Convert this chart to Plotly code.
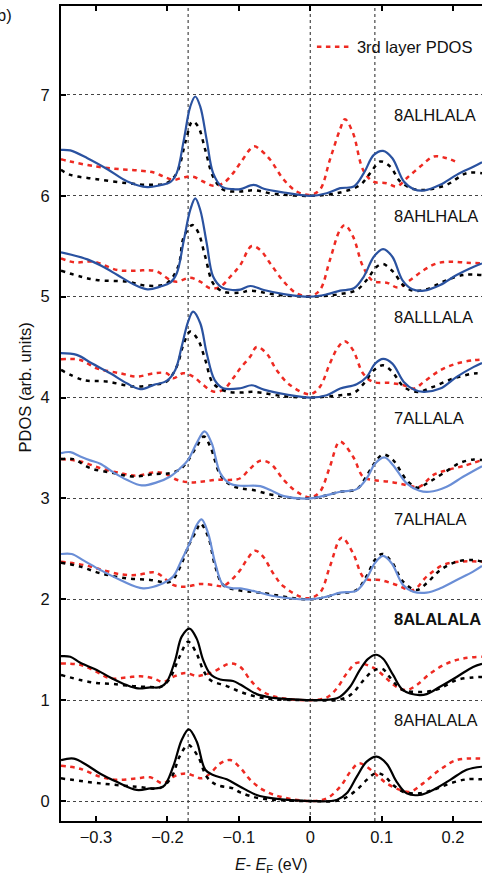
import plotly.graph_objects as go

# ---------------- data ----------------
panel_names = ["8ALHLALA", "8AHLHALA", "8ALLLALA", "7ALLALA", "7ALHALA", "8ALALALA", "8AHALALA"]
panel_offsets = [6, 5, 4, 3, 2, 1, 0]
panel_bold = [False, False, False, False, False, True, False]
solid_colors = ["#2a52a0", "#2a52a0", "#2a52a0", "#6a8ed6", "#6a8ed6", "#000000", "#000000"]
ref_lines_x = [-0.171, 0.0, 0.0905]
x_ticks = [-0.3, -0.2, -0.1, 0.0, 0.1, 0.2]
y_ticks = [0, 1, 2, 3, 4, 5, 6, 7]

# 8ALHLALA
alhlala_solid_x = [-0.349, -0.336, -0.312, -0.284, -0.256, -0.228, -0.210, -0.196, -0.187, -0.177, -0.168, -0.161, -0.154, -0.145, -0.136, -0.124, -0.108, -0.098, -0.079, -0.065, -0.037, 0.0, 0.023, 0.042, 0.061, 0.075, 0.089, 0.102, 0.115, 0.131, 0.145, 0.159, 0.182, 0.205, 0.229, 0.2405]
alhlala_solid_y = [0.456, 0.45, 0.373, 0.264, 0.142, 0.086, 0.106, 0.135, 0.225, 0.555, 0.885, 0.985, 0.885, 0.555, 0.225, 0.092, 0.066, 0.066, 0.109, 0.07, 0.033, 0.0, 0.026, 0.076, 0.092, 0.225, 0.406, 0.446, 0.373, 0.142, 0.066, 0.053, 0.109, 0.208, 0.29, 0.333]
alhlala_dash_x = [-0.349, -0.336, -0.299, -0.256, -0.224, -0.201, -0.187, -0.174, -0.165, -0.157, -0.147, -0.136, -0.122, -0.098, -0.079, -0.051, 0.0, 0.042, 0.070, 0.084, 0.098, 0.112, 0.126, 0.145, 0.163, 0.191, 0.219, 0.2405]
alhlala_dash_y = [0.258, 0.208, 0.165, 0.125, 0.109, 0.125, 0.225, 0.555, 0.737, 0.687, 0.456, 0.19, 0.06, 0.043, 0.055, 0.02, 0.0, 0.033, 0.109, 0.225, 0.34, 0.29, 0.142, 0.066, 0.06, 0.109, 0.225, 0.225]
alhlala_red_x = [-0.349, -0.336, -0.299, -0.266, -0.238, -0.219, -0.205, -0.192, -0.178, -0.164, -0.150, -0.136, -0.122, -0.108, -0.098, -0.079, -0.070, -0.056, -0.037, -0.019, 0.0, 0.0135, 0.0275, 0.0415, 0.0485, 0.060, 0.074, 0.088, 0.107, 0.121, 0.135, 0.154, 0.173, 0.191, 0.208]
alhlala_red_y = [0.363, 0.34, 0.29, 0.264, 0.25, 0.231, 0.19, 0.158, 0.182, 0.19, 0.142, 0.099, 0.125, 0.225, 0.324, 0.49, 0.456, 0.357, 0.159, 0.043, 0.01, 0.06, 0.357, 0.654, 0.76, 0.62, 0.258, 0.142, 0.125, 0.092, 0.175, 0.29, 0.39, 0.373, 0.324]

# 8AHLHALA
ahlhala_solid_x = [-0.349, -0.312, -0.290, -0.270, -0.250, -0.228, -0.210, -0.196, -0.187, -0.177, -0.168, -0.161, -0.154, -0.145, -0.136, -0.124, -0.108, -0.098, -0.084, -0.065, -0.037, 0.0, 0.023, 0.042, 0.061, 0.075, 0.089, 0.102, 0.115, 0.129, 0.143, 0.159, 0.182, 0.205, 0.229, 0.2405]
ahlhala_solid_y = [0.44, 0.37, 0.297, 0.215, 0.132, 0.073, 0.1, 0.139, 0.23, 0.56, 0.86, 0.975, 0.86, 0.53, 0.2, 0.092, 0.066, 0.07, 0.106, 0.066, 0.026, 0.0, 0.023, 0.06, 0.083, 0.2, 0.396, 0.472, 0.396, 0.165, 0.073, 0.06, 0.116, 0.215, 0.297, 0.33]
ahlhala_dash_x = [-0.349, -0.322, -0.299, -0.256, -0.228, -0.201, -0.185, -0.177, -0.165, -0.157, -0.147, -0.136, -0.122, -0.098, -0.084, -0.051, 0.0, 0.042, 0.065, 0.079, 0.093, 0.102, 0.116, 0.130, 0.144, 0.163, 0.186, 0.214, 0.2405]
ahlhala_dash_y = [0.258, 0.2, 0.165, 0.149, 0.109, 0.132, 0.297, 0.595, 0.71, 0.64, 0.396, 0.132, 0.05, 0.04, 0.06, 0.023, 0.0, 0.026, 0.066, 0.165, 0.297, 0.324, 0.248, 0.116, 0.06, 0.073, 0.149, 0.215, 0.215]
ahlhala_red_x = [-0.349, -0.330, -0.303, -0.270, -0.242, -0.228, -0.214, -0.196, -0.187, -0.168, -0.154, -0.140, -0.126, -0.112, -0.098, -0.082, -0.070, -0.056, -0.037, -0.019, 0.0, 0.0135, 0.0275, 0.0415, 0.0485, 0.060, 0.074, 0.088, 0.107, 0.123, 0.140, 0.159, 0.177, 0.196, 0.219, 0.2405]
ahlhala_red_y = [0.38, 0.34, 0.347, 0.264, 0.258, 0.264, 0.248, 0.165, 0.149, 0.188, 0.149, 0.083, 0.099, 0.198, 0.314, 0.502, 0.463, 0.33, 0.149, 0.033, 0.007, 0.066, 0.363, 0.66, 0.71, 0.595, 0.297, 0.155, 0.139, 0.092, 0.165, 0.264, 0.33, 0.347, 0.337, 0.33]

# 8ALLLALA
allllala_solid_x = [-0.349, -0.327, -0.306, -0.280, -0.257, -0.238, -0.219, -0.201, -0.189, -0.180, -0.171, -0.164, -0.154, -0.145, -0.134, -0.122, -0.098, -0.082, -0.065, -0.033, 0.0, 0.023, 0.042, 0.065, 0.079, 0.091, 0.102, 0.115, 0.131, 0.145, 0.159, 0.182, 0.205, 0.229, 0.2405]
allllala_solid_y = [0.44, 0.423, 0.34, 0.241, 0.142, 0.083, 0.126, 0.165, 0.274, 0.505, 0.753, 0.852, 0.737, 0.44, 0.175, 0.092, 0.092, 0.122, 0.079, 0.03, 0.0, 0.023, 0.089, 0.132, 0.205, 0.337, 0.383, 0.337, 0.155, 0.079, 0.056, 0.089, 0.205, 0.304, 0.343]
allllala_dash_x = [-0.349, -0.318, -0.285, -0.247, -0.219, -0.201, -0.187, -0.177, -0.168, -0.157, -0.147, -0.136, -0.117, -0.098, -0.079, -0.037, 0.0, 0.042, 0.061, 0.075, 0.089, 0.102, 0.115, 0.131, 0.150, 0.172, 0.200, 0.229, 0.2405]
allllala_dash_y = [0.274, 0.175, 0.159, 0.109, 0.126, 0.159, 0.307, 0.538, 0.654, 0.571, 0.373, 0.142, 0.06, 0.05, 0.056, 0.013, 0.0, 0.023, 0.046, 0.139, 0.27, 0.32, 0.254, 0.106, 0.056, 0.106, 0.188, 0.238, 0.238]
allllala_red_x = [-0.349, -0.322, -0.299, -0.266, -0.243, -0.219, -0.201, -0.192, -0.178, -0.164, -0.150, -0.136, -0.122, -0.108, -0.098, -0.084, -0.075, -0.061, -0.047, -0.028, 0.0, 0.0135, 0.0275, 0.0392, 0.0485, 0.060, 0.074, 0.088, 0.112, 0.131, 0.145, 0.159, 0.182, 0.205, 0.229, 0.2405]
allllala_red_y = [0.38, 0.373, 0.29, 0.241, 0.208, 0.241, 0.241, 0.191, 0.241, 0.208, 0.126, 0.06, 0.076, 0.191, 0.29, 0.406, 0.502, 0.436, 0.271, 0.122, 0.033, 0.106, 0.337, 0.502, 0.558, 0.469, 0.238, 0.155, 0.145, 0.122, 0.089, 0.155, 0.271, 0.337, 0.37, 0.376]

# 7ALLALA
allala7_solid_x = [-0.349, -0.336, -0.322, -0.308, -0.294, -0.2755, -0.257, -0.236, -0.215, -0.196, -0.182, -0.171, -0.159, -0.148, -0.138, -0.126, -0.112, -0.098, -0.070, -0.056, -0.037, 0.0, 0.023, 0.042, 0.065, 0.079, 0.091, 0.104, 0.116, 0.135, 0.153, 0.167, 0.191, 0.214, 0.2405]
allala7_solid_y = [0.449, 0.459, 0.416, 0.377, 0.344, 0.258, 0.185, 0.129, 0.159, 0.218, 0.3, 0.383, 0.548, 0.664, 0.548, 0.251, 0.145, 0.126, 0.122, 0.083, 0.023, 0.0, 0.033, 0.066, 0.092, 0.198, 0.347, 0.406, 0.33, 0.149, 0.076, 0.066, 0.116, 0.215, 0.32]
allala7_dash_x = [-0.349, -0.332, -0.308, -0.2755, -0.247, -0.219, -0.196, -0.182, -0.171, -0.159, -0.149, -0.140, -0.126, -0.112, -0.098, -0.080, -0.051, 0.0, 0.042, 0.065, 0.081, 0.091, 0.102, 0.116, 0.135, 0.150, 0.167, 0.186, 0.210, 0.229, 0.2405]
allala7_dash_y = [0.39, 0.39, 0.3, 0.251, 0.218, 0.241, 0.251, 0.29, 0.377, 0.515, 0.614, 0.515, 0.235, 0.135, 0.1, 0.083, 0.033, 0.0, 0.066, 0.092, 0.248, 0.36, 0.436, 0.38, 0.182, 0.106, 0.165, 0.248, 0.353, 0.386, 0.38]
allala7_red_x = [-0.349, -0.322, -0.294, -0.266, -0.243, -0.219, -0.205, -0.187, -0.168, -0.150, -0.131, -0.108, -0.098, -0.084, -0.070, -0.056, -0.037, -0.019, 0.0, 0.0135, 0.0275, 0.0415, 0.060, 0.074, 0.088, 0.112, 0.135, 0.153, 0.172, 0.191, 0.214, 0.2405]
allala7_red_y = [0.39, 0.367, 0.3, 0.251, 0.225, 0.258, 0.251, 0.185, 0.159, 0.168, 0.185, 0.185, 0.2, 0.297, 0.373, 0.347, 0.182, 0.066, 0.01, 0.066, 0.314, 0.562, 0.413, 0.215, 0.182, 0.165, 0.132, 0.116, 0.231, 0.28, 0.32, 0.38]

# 7ALHALA
alhala7_solid_x = [-0.349, -0.334, -0.317, -0.294, -0.266, -0.234, -0.206, -0.192, -0.180, -0.168, -0.159, -0.152, -0.143, -0.133, -0.122, -0.108, -0.098, -0.080, -0.052, 0.0, 0.023, 0.042, 0.065, 0.079, 0.091, 0.102, 0.114, 0.130, 0.144, 0.163, 0.182, 0.205, 0.228, 0.2405]
alhala7_solid_y = [0.449, 0.449, 0.383, 0.291, 0.192, 0.109, 0.159, 0.225, 0.39, 0.572, 0.737, 0.793, 0.654, 0.357, 0.142, 0.109, 0.109, 0.083, 0.033, 0.0, 0.026, 0.066, 0.086, 0.208, 0.363, 0.43, 0.357, 0.142, 0.076, 0.066, 0.109, 0.192, 0.274, 0.33]
alhala7_dash_x = [-0.349, -0.322, -0.294, -0.257, -0.224, -0.196, -0.182, -0.171, -0.159, -0.154, -0.143, -0.133, -0.122, -0.103, -0.070, 0.0, 0.042, 0.065, 0.079, 0.091, 0.101, 0.114, 0.130, 0.149, 0.163, 0.182, 0.205, 0.228, 0.2405]
alhala7_dash_y = [0.363, 0.324, 0.258, 0.208, 0.192, 0.175, 0.324, 0.522, 0.687, 0.753, 0.621, 0.324, 0.142, 0.093, 0.066, 0.0, 0.059, 0.092, 0.231, 0.396, 0.45, 0.373, 0.175, 0.092, 0.159, 0.29, 0.373, 0.39, 0.373]
alhala7_red_x = [-0.349, -0.317, -0.294, -0.266, -0.243, -0.219, -0.210, -0.192, -0.175, -0.154, -0.136, -0.122, -0.108, -0.098, -0.089, -0.077, -0.066, -0.052, -0.037, -0.005, 0.0135, 0.0275, 0.044, 0.060, 0.076, 0.098, 0.121, 0.144, 0.163, 0.186, 0.210, 0.2405]
alhala7_red_y = [0.373, 0.34, 0.297, 0.248, 0.241, 0.268, 0.241, 0.142, 0.125, 0.152, 0.142, 0.132, 0.208, 0.29, 0.39, 0.482, 0.423, 0.258, 0.126, 0.01, 0.066, 0.324, 0.611, 0.456, 0.208, 0.192, 0.142, 0.092, 0.225, 0.34, 0.373, 0.373]

# 8ALALALA
alalala_solid_x = [-0.349, -0.336, -0.322, -0.299, -0.280, -0.257, -0.241, -0.224, -0.210, -0.201, -0.189, -0.180, -0.169, -0.159, -0.150, -0.140, -0.126, -0.108, -0.098, -0.075, -0.052, -0.029, 0.0, 0.032, 0.0415, 0.0555, 0.0695, 0.081, 0.092, 0.102, 0.116, 0.130, 0.153, 0.163, 0.181, 0.205, 0.228, 0.2405]
alalala_solid_y = [0.436, 0.43, 0.37, 0.30, 0.225, 0.149, 0.116, 0.126, 0.13, 0.18, 0.40, 0.63, 0.71, 0.61, 0.40, 0.26, 0.205, 0.19, 0.155, 0.06, 0.023, 0.01, 0.0, 0.01, 0.033, 0.13, 0.30, 0.41, 0.45, 0.41, 0.25, 0.10, 0.05, 0.06, 0.13, 0.23, 0.33, 0.36]
alalala_dash_x = [-0.349, -0.322, -0.299, -0.276, -0.248, -0.224, -0.210, -0.198, -0.183, -0.171, -0.159, -0.150, -0.140, -0.117, -0.098, -0.075, -0.052, 0.0, 0.042, 0.058, 0.0725, 0.088, 0.101, 0.111, 0.126, 0.135, 0.163, 0.181, 0.205, 0.228, 0.2405]
alalala_dash_y = [0.25, 0.20, 0.17, 0.16, 0.139, 0.13, 0.13, 0.2, 0.43, 0.578, 0.46, 0.30, 0.20, 0.14, 0.083, 0.033, 0.01, 0.0, 0.007, 0.06, 0.18, 0.29, 0.31, 0.23, 0.115, 0.09, 0.083, 0.115, 0.2, 0.225, 0.23]
alalala_red_x = [-0.349, -0.322, -0.299, -0.280, -0.257, -0.238, -0.219, -0.206, -0.192, -0.175, -0.159, -0.150, -0.136, -0.112, -0.098, -0.084, -0.070, -0.052, -0.029, 0.0, 0.023, 0.037, 0.051, 0.065, 0.079, 0.093, 0.107, 0.121, 0.135, 0.149, 0.168, 0.191, 0.214, 0.2405]
alalala_red_y = [0.363, 0.35, 0.28, 0.215, 0.225, 0.238, 0.215, 0.18, 0.23, 0.27, 0.24, 0.25, 0.28, 0.363, 0.33, 0.2, 0.1, 0.04, 0.01, 0.0, 0.026, 0.115, 0.264, 0.37, 0.35, 0.30, 0.215, 0.13, 0.1, 0.15, 0.264, 0.363, 0.413, 0.43]

# 8AHALALA
ahalala_solid_x = [-0.349, -0.331, -0.313, -0.294, -0.271, -0.243, -0.224, -0.206, -0.192, -0.180, -0.170, -0.159, -0.147, -0.136, -0.117, -0.098, -0.075, -0.052, 0.0, 0.037, 0.051, 0.065, 0.079, 0.093, 0.107, 0.121, 0.135, 0.153, 0.172, 0.196, 0.219, 0.2405]
ahalala_solid_y = [0.406, 0.42, 0.357, 0.27, 0.19, 0.11, 0.125, 0.142, 0.34, 0.605, 0.71, 0.59, 0.31, 0.258, 0.215, 0.142, 0.06, 0.026, 0.0, 0.01, 0.076, 0.24, 0.39, 0.44, 0.37, 0.19, 0.076, 0.06, 0.11, 0.21, 0.31, 0.34]
ahalala_dash_x = [-0.349, -0.294, -0.243, -0.210, -0.194, -0.183, -0.171, -0.157, -0.145, -0.131, -0.108, -0.098, -0.070, 0.0, 0.042, 0.065, 0.079, 0.091, 0.102, 0.116, 0.130, 0.153, 0.172, 0.196, 0.219, 0.2405]
ahalala_dash_y = [0.225, 0.175, 0.142, 0.13, 0.24, 0.44, 0.555, 0.44, 0.24, 0.16, 0.125, 0.085, 0.026, 0.0, 0.01, 0.11, 0.21, 0.274, 0.258, 0.16, 0.092, 0.076, 0.11, 0.175, 0.215, 0.215]
ahalala_red_x = [-0.349, -0.322, -0.294, -0.271, -0.243, -0.224, -0.206, -0.192, -0.175, -0.163, -0.152, -0.140, -0.126, -0.112, -0.098, -0.084, -0.066, -0.042, 0.0, 0.023, 0.042, 0.056, 0.068, 0.079, 0.093, 0.107, 0.126, 0.140, 0.158, 0.181, 0.205, 0.2405]
ahalala_red_y = [0.35, 0.32, 0.24, 0.21, 0.225, 0.235, 0.175, 0.24, 0.274, 0.25, 0.225, 0.274, 0.373, 0.406, 0.33, 0.21, 0.11, 0.043, 0.0, 0.026, 0.142, 0.29, 0.373, 0.34, 0.258, 0.175, 0.11, 0.092, 0.175, 0.307, 0.406, 0.42]

solid_x = [alhlala_solid_x, ahlhala_solid_x, allllala_solid_x, allala7_solid_x, alhala7_solid_x, alalala_solid_x, ahalala_solid_x]
solid_y = [alhlala_solid_y, ahlhala_solid_y, allllala_solid_y, allala7_solid_y, alhala7_solid_y, alalala_solid_y, ahalala_solid_y]
dash_x = [alhlala_dash_x, ahlhala_dash_x, allllala_dash_x, allala7_dash_x, alhala7_dash_x, alalala_dash_x, ahalala_dash_x]
dash_y = [alhlala_dash_y, ahlhala_dash_y, allllala_dash_y, allala7_dash_y, alhala7_dash_y, alalala_dash_y, ahalala_dash_y]
red_x = [alhlala_red_x, ahlhala_red_x, allllala_red_x, allala7_red_x, alhala7_red_x, alalala_red_x, ahalala_red_x]
red_y = [alhlala_red_y, ahlhala_red_y, allllala_red_y, allala7_red_y, alhala7_red_y, alalala_red_y, ahalala_red_y]

# ---------------- figure ----------------
FONT = "Liberation Sans, Arial, Helvetica, sans-serif"
RED = "#ee2a22"

fig = go.Figure()

for i, off in enumerate(panel_offsets):
    fig.add_trace(go.Scatter(
        x=red_x[i], y=[v + off for v in red_y[i]], mode="lines",
        line=dict(color=RED, width=2.5, dash="4.5px,4.5px", shape="spline", smoothing=1),
        name="3rd layer PDOS", showlegend=(i == 0), hoverinfo="skip"))
    fig.add_trace(go.Scatter(
        x=dash_x[i], y=[v + off for v in dash_y[i]], mode="lines",
        line=dict(color="#000000", width=2.5, dash="4px,5px", shape="spline", smoothing=1),
        showlegend=False, hoverinfo="skip"))
    fig.add_trace(go.Scatter(
        x=solid_x[i], y=[v + off for v in solid_y[i]], mode="lines",
        line=dict(color=solid_colors[i], width=2.2, shape="spline", smoothing=1),
        showlegend=False, hoverinfo="skip"))

for xv in ref_lines_x:
    fig.add_shape(type="line", x0=xv, x1=xv, xref="x", y0=0, y1=1, yref="paper",
                  line=dict(color="#222222", width=1, dash="dot"), layer="below")

for i, name in enumerate(panel_names):
    txt = "<b>%s</b>" % name if panel_bold[i] else name
    fig.add_annotation(x=0.1144, y=panel_offsets[i] + 0.80, xref="x", yref="y",
                       text=txt, showarrow=False, xanchor="left", yanchor="middle",
                       font=dict(family=FONT, size=16.5, color="#111111"))

fig.add_annotation(x=-0.0855, y=0.532, xref="paper", yref="paper", text="PDOS (arb. units)",
                   textangle=-90, showarrow=False, xanchor="center", yanchor="middle",
                   font=dict(family=FONT, size=16.5, color="#111111"))
fig.add_annotation(x=0.501, y=-0.054, xref="paper", yref="paper",
                   text="<i>E</i>- <i>E</i><sub>F</sub> (eV)", showarrow=False,
                   xanchor="center", yanchor="middle",
                   font=dict(family=FONT, size=16, color="#111111"))
fig.add_annotation(x=-0.112, y=0.989, xref="paper", yref="paper", text="b)",
                   showarrow=False, xanchor="right", yanchor="middle",
                   font=dict(family=FONT, size=16.5, color="#111111"))

fig.update_layout(
    width=482, height=875,
    margin=dict(l=61, r=0, t=6, b=54),
    paper_bgcolor="white", plot_bgcolor="white",
    font=dict(family=FONT, size=16.5, color="#111111"),
    legend=dict(x=0.596, y=0.971, xanchor="left", yanchor="top", itemwidth=35,
                bgcolor="rgba(0,0,0,0)", borderwidth=0,
                font=dict(family=FONT, size=16.5, color="#111111")),
    xaxis=dict(range=[-0.349, 0.2405], tickvals=x_ticks, ticks="inside", ticklen=5,
               tickwidth=1.5, tickcolor="#000", showline=True, linecolor="#000",
               linewidth=2, mirror="ticks", showgrid=False, zeroline=False,
               tickfont=dict(family=FONT, size=16.5, color="#111111")),
    yaxis=dict(range=[-0.198, 7.882], tickvals=y_ticks, ticks="inside", ticklen=5,
               tickwidth=1.5, tickcolor="#000", showline=True, linecolor="#000",
               linewidth=2, mirror=False, showgrid=True, gridcolor="#444444",
               gridwidth=1, griddash="dot", zeroline=False, ticklabelstandoff=6,
               tickfont=dict(family=FONT, size=16.5, color="#111111")),
)

fig.write_html("out.html")
